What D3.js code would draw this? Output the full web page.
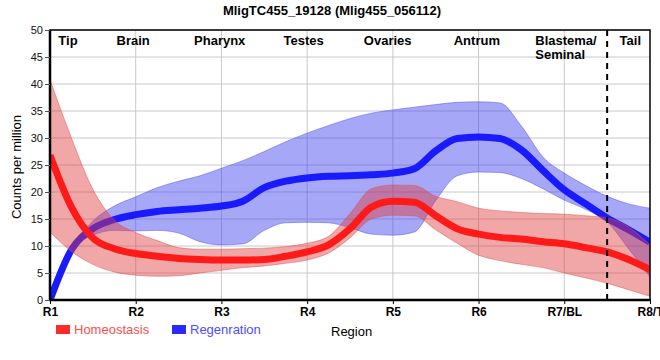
<!DOCTYPE html>
<html><head><meta charset="utf-8">
<script src="https://cdn.jsdelivr.net/npm/d3@7/dist/d3.min.js"></script>
<style>body{margin:0;background:#fff}svg{display:block;font-family:"Liberation Sans",Arial,sans-serif}</style>
</head><body><svg id="c" width="660" height="360"></svg>
<script>
const title = "MligTC455_19128 (Mlig455_056112)";
const tickLabels = ["R1","R2","R3","R4","R5","R6","R7/BL","R8/T"];
const regionNames = ["Tip","Brain","Pharynx","Testes","Ovaries","Antrum","Blastema/\nSeminal","Tail"];
const regionPos = [1.21,1.97,2.98,3.96,4.94,5.98,7,7.77];
const positions = [1,1.25,1.5,1.75,2,2.25,2.5,2.75,3,3.25,3.5,3.75,4,4.25,4.5,4.75,5,5.25,5.5,5.75,6,6.25,6.5,6.75,7,7.25,7.5,7.75,8];
const homeoMean  = [26.8,17.2,11.5,9.5,8.6,8.1,7.7,7.5,7.4,7.4,7.5,8.1,8.9,10.2,13.2,17.2,18.3,18.1,15.6,13.2,12.2,11.6,11.3,10.8,10.4,9.7,8.9,7.5,5.6];
const homeoUpper = [40.8,30,20.5,14.8,12.5,11,9.7,9.4,9.4,9.5,9.6,9.9,10.5,11.8,16,20.6,21.3,21.2,19.2,18.2,17,16.5,16.2,16,15.9,15.6,15.2,13.5,10.2];
const homeoLower = [12.6,9,6.6,5.2,4.6,4.4,4.5,5,5.5,6,6.3,6.8,7.4,8.7,11.5,15,15.7,15.6,13,10.5,8.3,7.3,6.6,6,5,4.1,3.1,1.9,0.7];
const regenMean  = [0,9.3,13.2,14.9,15.8,16.4,16.7,17,17.4,18.3,20.8,22,22.6,22.9,23,23.2,23.5,24.3,27.6,29.9,30.2,29.9,27.8,24,20.4,17.8,15.2,13,10.7];
const regenUpper = [0,9.6,14.6,17.4,19.1,20.8,22,23,24.4,25.8,27.5,29.3,30.9,32.3,33.6,34.6,35.2,35.7,36.2,36.6,36.7,36.5,32.2,26.5,23.5,21.2,19.2,17.8,17];
const regenLower = [0,9,12,12.9,12.8,12.9,12.4,10.8,10.2,10.4,12.9,14.3,14.4,14.3,13.4,12.2,12,12.6,18.4,23,23.7,23.6,22.5,20.6,18.5,16.8,14.5,9.5,4.3];
const yTicks = [0,5,10,15,20,25,30,35,40,45,50];
const dividerPos = 7.5;
const legendItems = [["Homeostasis","#ff2a2a","#ff4d4d"],["Regenration","#2a2aff","#4d4dff"]];

const svg = d3.select("#c");
const m = {l:50, r:650, t:30, b:300};
const x = d3.scaleLinear().domain([1,8]).range([m.l,m.r]);
const y = d3.scaleLinear().domain([0,50]).range([m.b,m.t]);

// grid
const g = svg.append("g");
g.selectAll(".hg").data(yTicks.slice(1)).join("line")
  .attr("x1",m.l).attr("x2",m.r).attr("y1",d=>y(d)).attr("y2",d=>y(d))
  .attr("stroke","#c8c8c8").attr("stroke-width",1);
g.selectAll(".vg").data(d3.range(2,8)).join("line")
  .attr("x1",d=>x(d)).attr("x2",d=>x(d)).attr("y1",m.t).attr("y2",m.b)
  .attr("stroke","#c8c8c8").attr("stroke-width",1);

// clip
svg.append("clipPath").attr("id","clip").append("rect").attr("x",m.l).attr("y",m.t).attr("width",m.r-m.l).attr("height",m.b-m.t);
const p = svg.append("g").attr("clip-path","url(#clip)");

const idx = positions.map((d,i)=>i);
const area = (up,lo)=>d3.area().x(i=>x(positions[i])).y0(i=>y(lo[i])).y1(i=>y(up[i])).curve(d3.curveMonotoneX);
const line = (v)=>d3.line().x(i=>x(positions[i])).y(i=>y(v[i])).curve(d3.curveMonotoneX);

p.append("path").attr("d",area(regenUpper,regenLower)(idx)).attr("fill","#3c3cf0").attr("fill-opacity",0.45).attr("stroke","#5050f0").attr("stroke-opacity",0.5);
p.append("path").attr("d",line(regenMean)(idx)).attr("fill","none").attr("stroke","#1a1aff").attr("stroke-width",7);
p.append("path").attr("d",area(homeoUpper,homeoLower)(idx)).attr("fill","#e03c3c").attr("fill-opacity",0.45).attr("stroke","#e05050").attr("stroke-opacity",0.5);
p.append("path").attr("d",line(homeoMean)(idx)).attr("fill","none").attr("stroke","#ff1a1a").attr("stroke-width",7);

// divider
svg.append("line").attr("x1",x(dividerPos)).attr("x2",x(dividerPos)).attr("y1",m.t).attr("y2",m.b+5)
  .attr("stroke","#000").attr("stroke-width",2).attr("stroke-dasharray","6,5");

// frame
svg.append("rect").attr("x",m.l).attr("y",m.t).attr("width",m.r-m.l).attr("height",m.b-m.t)
  .attr("fill","none").attr("stroke","#000").attr("stroke-width",1.5);
svg.append("line").attr("x1",m.l).attr("x2",m.l).attr("y1",m.t).attr("y2",m.b+1).attr("stroke","#000").attr("stroke-width",2.5);
svg.append("line").attr("x1",m.l-1).attr("x2",m.r+1).attr("y1",m.b).attr("y2",m.b).attr("stroke","#000").attr("stroke-width",2.5);

// y axis
const ya = svg.append("g").attr("transform",`translate(${m.l},0)`)
  .call(d3.axisLeft(y).tickValues(yTicks).tickSize(5).tickPadding(2));
ya.select(".domain").remove();
ya.selectAll(".tick line").attr("stroke","#555");
ya.selectAll("text").attr("font-size",11).attr("fill","#111").attr("font-family","Liberation Sans, Arial");

// x axis
const xa = svg.append("g").attr("transform",`translate(0,${m.b})`)
  .call(d3.axisBottom(x).tickValues(d3.range(1,9)).tickFormat((d,i)=>tickLabels[i]).tickSize(4).tickPadding(3));
xa.select(".domain").remove();
xa.selectAll(".tick line").attr("stroke","#000");
xa.selectAll("text").attr("font-size",12).attr("font-weight","bold").attr("fill","#000").attr("font-family","Liberation Sans, Arial");

// title
svg.append("text").attr("x",332).attr("y",15).attr("text-anchor","middle")
  .attr("font-size",13).attr("font-weight","bold").text(title);

// region labels
regionNames.forEach((n,i)=>{
  const parts = n.split("\n");
  const multi = parts.length>1;
  const xx = multi ? x(regionPos[i])-29 : x(regionPos[i]);
  const t = svg.append("text").attr("font-size",13).attr("font-weight","bold")
    .attr("x",xx).attr("y",45).attr("text-anchor",multi?"start":"middle");
  parts.forEach((s,j)=>t.append("tspan").attr("x",xx).attr("dy",j?14:0).text(s));
});

// y title
svg.append("text").attr("transform","translate(21,167) rotate(-90)").attr("text-anchor","middle")
  .attr("font-size",13).text("Counts per million");

// legend
legendItems.forEach(([name,col,tcol],i)=>{
  const gx = i===0?56:172;
  svg.append("rect").attr("x",gx).attr("y",325).attr("width",14).attr("height",9).attr("fill",col);
  svg.append("text").attr("x",gx+18).attr("y",334).attr("font-size",13).attr("fill",tcol).text(name);
});
svg.append("text").attr("x",331).attr("y",336).attr("font-size",13).attr("fill","#000").text("Region");
</script></body></html>
